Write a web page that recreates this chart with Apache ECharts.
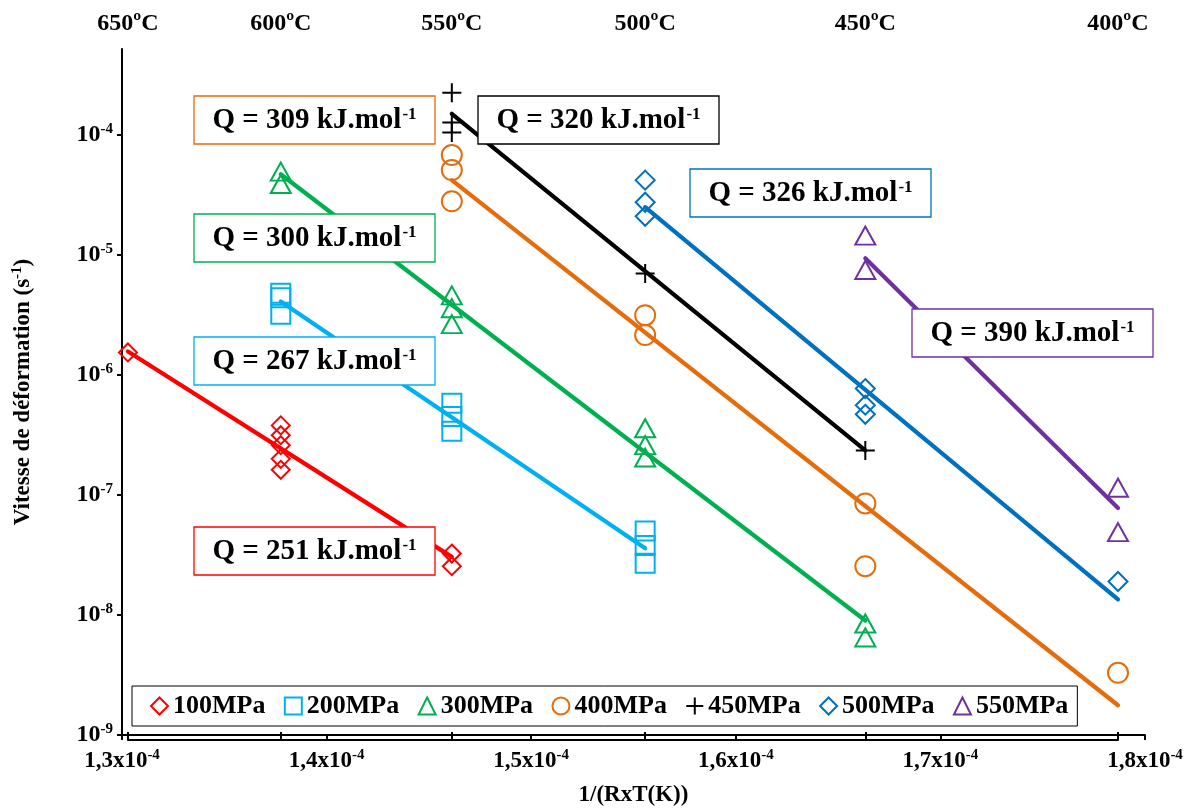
<!DOCTYPE html>
<html><head><meta charset="utf-8">
<script src="https://cdn.jsdelivr.net/npm/echarts@6/dist/echarts.min.js"></script>
<style>html,body{margin:0;padding:0;background:#fff}#c{width:1195px;height:812px}</style>
</head><body><div id="c"></div>
<script>
// ---------- DATA ----------
// top axis: temperature labels and their 1/(R*T) positions
const tempLabels = ['650ºC', '600ºC', '550ºC', '500ºC', '450ºC', '400ºC'];
const tempX = [1.3029e-4, 1.3776e-4, 1.4612e-4, 1.5557e-4, 1.6633e-4, 1.7868e-4];
// left axis decades
const yTicks = [1e-9, 1e-8, 1e-7, 1e-6, 1e-5, 1e-4];

const seriesNames = ['100MPa', '200MPa', '300MPa', '400MPa', '450MPa', '500MPa', '550MPa'];

// measured points
const x100 = [1.3029e-4, 1.3776e-4, 1.3776e-4, 1.3776e-4, 1.3776e-4, 1.3776e-4, 1.4612e-4, 1.4612e-4];
const y100 = [1.54e-6, 3.8e-7, 3.15e-7, 2.6e-7, 2.0e-7, 1.62e-7, 3.25e-8, 2.55e-8];
const x200 = [1.3776e-4, 1.3776e-4, 1.3776e-4, 1.4612e-4, 1.4612e-4, 1.4612e-4, 1.5557e-4, 1.5557e-4, 1.5557e-4];
const y200 = [4.8e-6, 4.4e-6, 3.2e-6, 5.8e-7, 4.5e-7, 3.4e-7, 5.0e-8, 3.8e-8, 2.7e-8];
const x300 = [1.3776e-4, 1.3776e-4, 1.4612e-4, 1.4612e-4, 1.4612e-4, 1.5557e-4, 1.5557e-4, 1.5557e-4, 1.6633e-4, 1.6633e-4];
const y300 = [4.95e-5, 3.9e-5, 4.6e-6, 3.6e-6, 2.65e-6, 3.6e-7, 2.6e-7, 2.05e-7, 8.5e-9, 6.5e-9];
const x400 = [1.4612e-4, 1.4612e-4, 1.4612e-4, 1.5557e-4, 1.5557e-4, 1.6633e-4, 1.6633e-4, 1.7868e-4];
const y400 = [6.8e-5, 5.1e-5, 2.8e-5, 3.15e-6, 2.15e-6, 8.5e-8, 2.55e-8, 3.3e-9];
const x450 = [1.4612e-4, 1.4612e-4, 1.4612e-4, 1.5557e-4, 1.6633e-4];
const y450 = [2.25e-4, 1.27e-4, 1.05e-4, 7.0e-6, 2.35e-7];
const x500 = [1.5557e-4, 1.5557e-4, 1.5557e-4, 1.6633e-4, 1.6633e-4, 1.6633e-4, 1.7868e-4];
const y500 = [4.2e-5, 2.75e-5, 2.1e-5, 7.7e-7, 5.6e-7, 4.7e-7, 1.9e-8];
const x550 = [1.6633e-4, 1.6633e-4, 1.7868e-4, 1.7868e-4];
const y550 = [1.45e-5, 7.5e-6, 1.15e-7, 4.9e-8];

// fitted (Arrhenius) lines: end points
const fitX100 = [1.3029e-4, 1.4612e-4]; const fitY100 = [1.57e-6, 3.05e-8];
const fitX200 = [1.3776e-4, 1.5557e-4]; const fitY200 = [4.1e-6, 3.6e-8];
const fitX300 = [1.3776e-4, 1.6633e-4]; const fitY300 = [4.7e-5, 9.0e-9];
const fitX400 = [1.4612e-4, 1.7868e-4]; const fitY400 = [4.2e-5, 1.77e-9];
const fitX450 = [1.4612e-4, 1.6633e-4]; const fitY450 = [1.5e-4, 2.35e-7];
const fitX500 = [1.5557e-4, 1.7868e-4]; const fitY500 = [2.5e-5, 1.35e-8];
const fitX550 = [1.6633e-4, 1.7868e-4]; const fitY550 = [9.4e-6, 7.8e-8];

// activation energies (kJ/mol) per series
const qValues = [251, 267, 300, 309, 320, 326, 390];

// ---------- STYLE / LAYOUT ----------
const FONT = 'Liberation Serif';
const colors = ['#FF0000', '#00B0F0', '#00B050', '#E46C0A', '#000000', '#0070C0', '#7030A0'];
const PLUS = 'path://M5,0 L5,10 M0,5 L10,5';
const symbols = ['diamond', 'rect', 'triangle', 'circle', PLUS, 'diamond', 'triangle'];
const symSizes = [[18, 18], [19, 19], [20, 18], [20, 20], [19, 19], [19, 19], [20, 18]];
// Q label boxes (pixel layout)
const qBoxLeft = [194, 194, 194, 194, 478, 690, 912];
const qBoxTop = [527, 337, 214, 96, 96, 169, 309];
const qBoxW = 241, qBoxH = 48;

const G = { left: 122, right: 50, top: 49, bottom: 72 };
const X_MIN = 1.3e-4, X_MAX = 1.8e-4;
const gridW = 1195 - G.left - G.right;
const topLeft = G.left + (tempX[0] - X_MIN) / (X_MAX - X_MIN) * gridW;
const topRight = 1195 - (G.left + (tempX[tempX.length - 1] - X_MIN) / (X_MAX - X_MIN) * gridW);

const xs = [x100, x200, x300, x400, x450, x500, x550];
const ys = [y100, y200, y300, y400, y450, y500, y550];
const fxs = [fitX100, fitX200, fitX300, fitX400, fitX450, fitX500, fitX550];
const fys = [fitY100, fitY200, fitY300, fitY400, fitY450, fitY500, fitY550];

const zip = (a, b) => a.map((v, i) => [v, b[i]]);
const series = [];
seriesNames.forEach((n, i) => {
  series.push({
    type: 'scatter', name: n, data: zip(xs[i], ys[i]),
    symbol: symbols[i], symbolSize: symSizes[i],
    itemStyle: { color: 'rgba(255,255,255,0)', borderColor: colors[i], borderWidth: 2, opacity: 1 },
    z: 2, silent: true
  });
});
seriesNames.forEach((n, i) => {
  series.push({
    type: 'line', name: 'fit' + n, data: zip(fxs[i], fys[i]),
    symbol: 'none', showSymbol: false,
    lineStyle: { color: colors[i], width: 4.2, cap: 'round' },
    z: 3, silent: true
  });
});

const txt = { fontFamily: FONT, fontWeight: 'bold', color: '#000' };
const sup = (size) => ({ fontFamily: FONT, fontWeight: 'bold', fontSize: size, verticalAlign: 'top', color: '#000' });

const graphics = [];
qValues.forEach((q, i) => {
  graphics.push({
    type: 'rect', shape: { x: qBoxLeft[i], y: qBoxTop[i], width: qBoxW, height: qBoxH },
    style: { fill: '#fff', stroke: colors[i], lineWidth: 1.3 }, z: 10
  });
  graphics.push({
    type: 'text', x: qBoxLeft[i] + qBoxW / 2, y: qBoxTop[i] + qBoxH / 2 + 1, z: 11,
    style: {
      text: '{m|Q = ' + q + ' kJ.mol}{s|-1}',
      align: 'center', verticalAlign: 'middle',
      rich: {
        m: { fontFamily: FONT, fontWeight: 'bold', fontSize: 29, color: colors[i], lineHeight: 30 },
        s: { fontFamily: FONT, fontWeight: 'bold', fontSize: 17, color: colors[i], verticalAlign: 'top', lineHeight: 30, padding: [0, 0, 10, 1] }
      }
    }
  });
});

const option = {
  backgroundColor: '#fff',
  animation: false,
  grid: [
    { left: G.left, right: G.right, top: G.top, bottom: G.bottom },
    { left: topLeft, right: topRight, top: G.top, bottom: G.bottom }
  ],
  xAxis: [
    {
      type: 'value', gridIndex: 0, min: X_MIN, max: X_MAX, interval: 1e-5,
      name: '1/(RxT(K))', nameLocation: 'middle', nameGap: 49,
      nameTextStyle: { fontFamily: FONT, fontWeight: 'bold', fontSize: 23, color: '#000' },
      axisLine: { lineStyle: { color: '#000', width: 2 } },
      axisTick: { inside: false, length: 5, lineStyle: { color: '#000', width: 2 } },
      splitLine: { show: false },
      axisLabel: {
        margin: 13,
        formatter: v => '{b|' + (v * 1e4).toFixed(1).replace('.', ',') + 'x10}{s|-4}',
        rich: { b: Object.assign({ fontSize: 23, lineHeight: 26 }, txt), s: Object.assign(sup(15), { lineHeight: 26, padding: [0, 0, 8, 0] }) }
      }
    },
    {
      type: 'value', gridIndex: 1, position: 'top', min: tempX[0], max: tempX[tempX.length - 1],
      axisLine: { lineStyle: { color: '#000', width: 2 } },
      axisTick: { inside: false, length: 8, customValues: tempX, lineStyle: { color: '#000', width: 2 } },
      splitLine: { show: false },
      axisLabel: {
        margin: 13, customValues: tempX,
        formatter: v => {
          let best = 0;
          tempX.forEach((t, i) => { if (Math.abs(t - v) < Math.abs(tempX[best] - v)) best = i; });
          return tempLabels[best];
        },
        fontFamily: FONT, fontWeight: 'bold', fontSize: 24, color: '#000'
      }
    }
  ],
  yAxis: [
    {
      type: 'log', logBase: 10, gridIndex: 0, min: 1e-9, max: 5.2e-4,
      name: '{b|Vitesse de déformation (s}{s|-1}{b|)}', nameLocation: 'middle', nameGap: 86, nameRotate: 90,
      nameTextStyle: {
        rich: { b: Object.assign({ fontSize: 23, lineHeight: 26 }, txt), s: Object.assign(sup(15), { lineHeight: 26, padding: [0, 0, 8, 0] }) }
      },
      axisLine: { lineStyle: { color: '#000', width: 2 } },
      axisTick: { inside: false, length: 5, customValues: yTicks, lineStyle: { color: '#000', width: 2 } },
      splitLine: { show: false },
      minorTick: { show: false },
      axisLabel: {
        margin: 9, customValues: yTicks,
        formatter: v => {
          const e = Math.log10(v);
          if (Math.abs(e - Math.round(e)) > 1e-6) return '';
          return '{b|10}{s|' + Math.round(e) + '}';
        },
        rich: { b: Object.assign({ fontSize: 24, lineHeight: 26 }, txt), s: Object.assign(sup(15), { lineHeight: 26, padding: [0, 0, 8, 0] }) }
      }
    },
    { type: 'value', gridIndex: 1, show: false, min: 0, max: 1 }
  ],
  legend: {
    data: seriesNames,
    left: 132, top: 686,
    orient: 'horizontal',
    padding: [7, 9, 7, 18],
    itemGap: 18.4, itemWidth: 17, itemHeight: 17,
    borderColor: '#000', borderWidth: 1, backgroundColor: '#fff',
    textStyle: { fontFamily: FONT, fontWeight: 'bold', fontSize: 26, color: '#000' },
    selectedMode: false, z: 12
  },
  graphic: graphics,
  series: series
};

const chart = echarts.init(document.getElementById('c'));
chart.setOption(option);
</script>
</body></html>
